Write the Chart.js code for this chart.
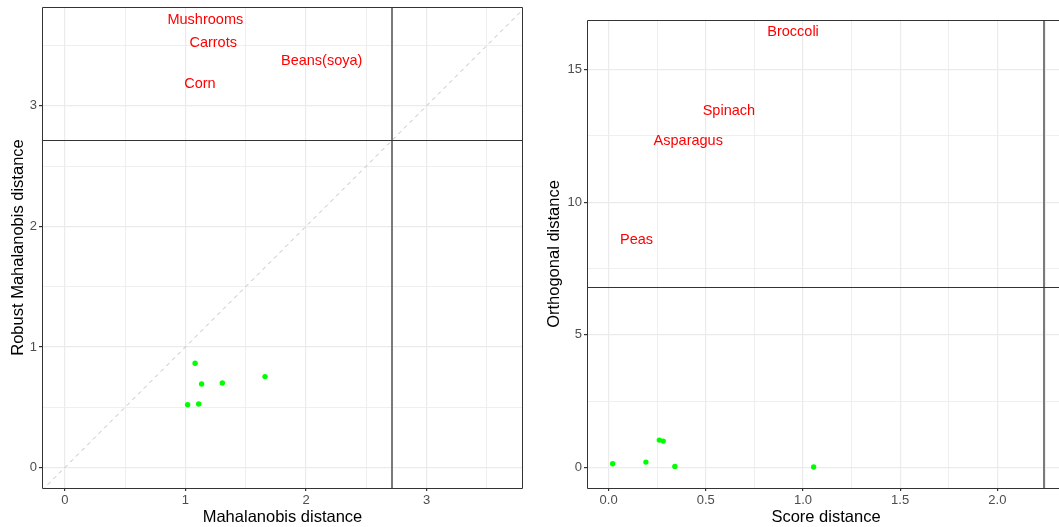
<!DOCTYPE html>
<html>
<head>
<meta charset="utf-8">
<script src="https://cdn.jsdelivr.net/npm/chart.js@4.4.1/dist/chart.umd.min.js"></script>
<style>
  html, body { margin: 0; padding: 0; background: #fff; overflow: hidden; }
  #left { position: absolute; left: 0; top: 0; width: 530px; height: 527px; }
  #right { position: absolute; left: 530px; top: 0; width: 539px; height: 527px; }
</style>
</head>
<body>
<div id="left"><canvas id="chartLeft"></canvas></div>
<div id="right"><canvas id="chartRight"></canvas></div>
<script>
// left panel: Mahalanobis vs robust distance
const mdX = [1.08, 1.134, 1.306, 1.66, 1.018, 1.11];
const mdY = [0.865, 0.693, 0.701, 0.754, 0.521, 0.527];
const mdOutNames = ['Mushrooms', 'Carrots', 'Beans(soya)', 'Corn'];
const mdOutX = [1.165, 1.23, 2.13, 1.12];
const mdOutY = [3.71, 3.52, 3.37, 3.18];
const mdCut = 2.716;
const mdTicks = [0, 1, 2, 3];
const mdMinor = [0.5, 1.5, 2.5, 3.5];

// right panel: score vs orthogonal distance
const sdX = [0.021, 0.192, 0.261, 0.281, 0.341, 1.055];
const odY = [0.143, 0.207, 1.036, 0.998, 0.045, 0.019];
const odOutNames = ['Broccoli', 'Spinach', 'Asparagus', 'Peas'];
const odOutX = [0.949, 0.619, 0.41, 0.144];
const odOutY = [16.4, 13.45, 12.31, 8.57];
const sdCut = 2.241;
const odCut = 6.82;
const sdTicks = [0, 0.5, 1, 1.5, 2];
const sdMinor = [0.25, 0.75, 1.25, 1.75, 2.25];
const odTicks = [0, 5, 10, 15];
const odMinor = [2.5, 7.5, 12.5];

const FONT = "'Liberation Sans', Arial, sans-serif";

const refLines = {
  id: 'refLines',
  afterDatasetsDraw(chart, args, opts) {
    const { ctx, chartArea: a, scales: { x, y } } = chart;
    const L = Math.round(a.left) + 0.5, T = Math.round(a.top) + 0.5;
    const R = Math.round(a.right) - 0.5, B = Math.round(a.bottom) + 0.5;
    ctx.save();
    // cutoff lines
    ctx.strokeStyle = '#7a7a7a';
    ctx.lineWidth = 2;
    const vx = Math.round(x.getPixelForValue(opts.vline));
    ctx.beginPath();
    ctx.moveTo(vx, a.top); ctx.lineTo(vx, a.bottom);
    ctx.stroke();
    ctx.strokeStyle = '#333333';
    ctx.lineWidth = 1;
    const hy = Math.round(y.getPixelForValue(opts.hline)) + 0.5;
    ctx.beginPath();
    ctx.moveTo(a.left, hy); ctx.lineTo(a.right, hy);
    // panel border
    if (opts.open) {
      ctx.moveTo(a.right, T); ctx.lineTo(L, T); ctx.lineTo(L, B); ctx.lineTo(a.right, B);
    } else {
      ctx.rect(L, T, R - L, B - T);
    }
    ctx.stroke();
    // outlier labels
    const meta = chart.getDatasetMeta(opts.labelSet);
    ctx.fillStyle = '#FF0000';
    ctx.font = '14.5px ' + FONT;
    ctx.textAlign = 'center';
    ctx.textBaseline = 'middle';
    meta.data.forEach((el, i) => ctx.fillText(opts.names[i], el.x, el.y));
    ctx.restore();
  }
};

function axis(min, max, major, minor, title, extra) {
  const all = major.concat(minor);
  return {
    type: 'linear',
    min: min,
    max: max,
    afterBuildTicks: s => { s.ticks = all.filter(v => v >= min && v <= max).map(v => ({ value: v })); },
    afterFit: s => {
      if (extra.w) s.width = extra.w;
      if (extra.h) s.height = extra.h;
      s.paddingTop = 0; s.paddingBottom = 0; s.paddingLeft = 0; s.paddingRight = 0;
    },
    ticks: {
      autoSkip: false,
      maxRotation: 0,
      padding: 2,
      color: '#4D4D4D',
      font: { family: FONT, size: 13 },
      callback: v => major.includes(v) ? (extra.fmt ? extra.fmt(v) : String(v)) : ''
    },
    grid: {
      color: '#EBEBEB',
      lineWidth: c => (c.tick && major.includes(c.tick.value)) ? 1.2 : 0.8,
      tickLength: 3,
      tickColor: c => (c.tick && major.includes(c.tick.value)) ? '#333333' : 'rgba(0,0,0,0)'
    },
    border: { display: false },
    title: {
      display: true,
      text: title,
      color: '#000',
      font: { family: FONT, size: 16.5 },
      padding: { top: extra.tpad || 0, bottom: 0 }
    }
  };
}

const dots = (xs, ys) => xs.map((v, i) => ({ x: v, y: ys[i] }));

const mdMin = -0.19, mdMax = 3.80, rdMin = -0.17, rdMax = 3.82;

new Chart(document.getElementById('chartLeft'), {
  type: 'scatter',
  data: {
    datasets: [
      {
        data: dots(mdX, mdY),
        backgroundColor: '#00FF00',
        borderWidth: 0,
        pointRadius: 2.7
      },
      {
        data: dots(mdOutX, mdOutY),
        pointRadius: 0
      },
      {
        type: 'line',
        data: [{ x: mdMin, y: mdMin }, { x: mdMax, y: mdMax }],
        borderColor: '#BEBEBE',
        borderWidth: 1,
        borderDash: [4, 4],
        pointRadius: 0
      }
    ]
  },
  options: {
    responsive: true,
    maintainAspectRatio: false,
    animation: false,
    events: [],
    layout: { padding: { top: 7, right: 7, left: 0, bottom: 0 } },
    plugins: {
      legend: { display: false },
      tooltip: { enabled: false },
      refLines: { vline: mdCut, hline: mdCut, labelSet: 1, names: mdOutNames, open: false }
    },
    scales: {
      x: axis(mdMin, mdMax, mdTicks, mdMinor, 'Mahalanobis distance', { h: 39 }),
      y: axis(rdMin, rdMax, mdTicks, mdMinor, 'Robust Mahalanobis distance', { tpad: 9, w: 42 })
    }
  },
  plugins: [refLines]
});

const sdMin = -0.111, sdMax = 2.348, odMin = -0.77, odMax = 16.87;

new Chart(document.getElementById('chartRight'), {
  type: 'scatter',
  data: {
    datasets: [
      {
        data: dots(sdX, odY),
        backgroundColor: '#00FF00',
        borderWidth: 0,
        pointRadius: 2.7
      },
      {
        data: dots(odOutX, odOutY),
        pointRadius: 0
      }
    ]
  },
  options: {
    responsive: true,
    maintainAspectRatio: false,
    animation: false,
    events: [],
    layout: { padding: { top: 20, right: 0, left: 0, bottom: 0 } },
    plugins: {
      legend: { display: false },
      tooltip: { enabled: false },
      refLines: { vline: sdCut, hline: odCut, labelSet: 1, names: odOutNames, open: true }
    },
    scales: {
      x: axis(sdMin, sdMax, sdTicks, sdMinor, 'Score distance', { h: 39, fmt: v => v.toFixed(1) }),
      y: axis(odMin, odMax, odTicks, odMinor, 'Orthogonal distance', { tpad: 15, w: 57 })
    }
  },
  plugins: [refLines]
});
</script>
</body>
</html>
